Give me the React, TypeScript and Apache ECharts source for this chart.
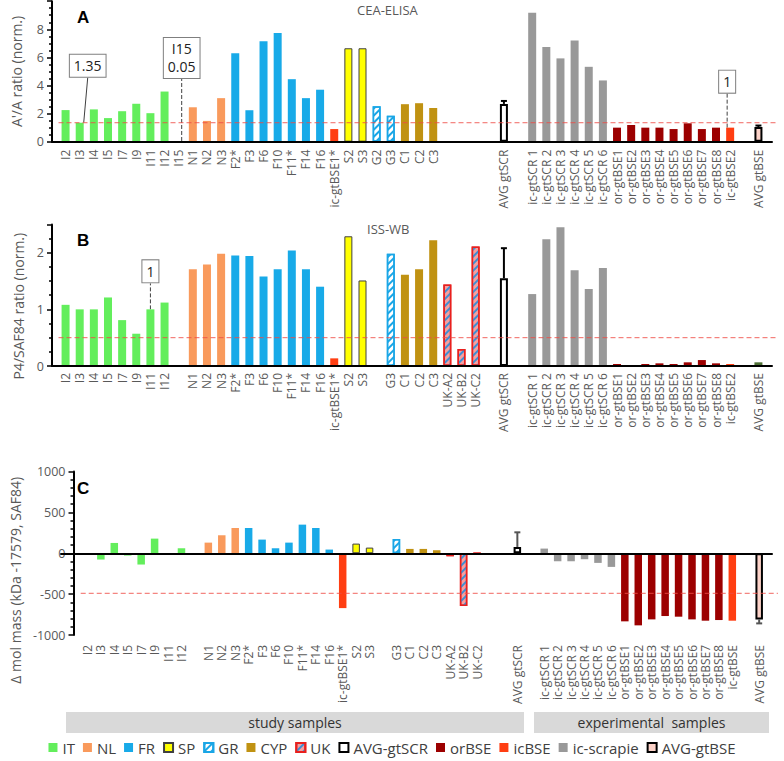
import React, { useEffect, useRef } from 'react';
import * as echarts from 'echarts';

// ---------- DATA ----------
const A_LABELS = ['I2','I3','I4','I5','I7','I9','I11','I12','I15','N1','N2','N3','F2*','F3','F6','F10','F11*','F14','F16','ic-gtBSE1*','S2','S3','G2','G3','C1','C2','C3','~1','~2','~3','~4','AVG gtSCR','~5','ic-gtSCR 1','ic-gtSCR 2','ic-gtSCR 3','ic-gtSCR 4','ic-gtSCR 5','ic-gtSCR 6','or-gtBSE1','or-gtBSE2','or-gtBSE3','or-gtBSE4','or-gtBSE5','or-gtBSE6','or-gtBSE7','or-gtBSE8','ic-gtBSE2','~6','AVG gtBSE'];
const A_VALUES = [2.25,1.35,2.3,1.68,2.17,2.7,2.03,3.57,0.05,2.45,1.48,3.1,6.3,2.24,7.15,7.74,4.45,3.1,3.7,0.9,6.65,6.65,2.52,1.85,2.67,2.74,2.4,null,null,null,null,2.69,null,9.17,6.74,5.93,7.21,5.33,4.36,1.0,1.19,1.0,1.0,0.9,1.31,0.9,1.0,1.0,null,1.05];
const A_ERR: Record<string, number> = { 'AVG gtSCR': 2.9, 'AVG gtBSE': 1.15 };

const B_LABELS = ['I2','I3','I4','I5','I7','I9','I11','I12','~1','N1','N2','N3','F2*','F3','F6','F10','F11*','F14','F16','ic-gtBSE1*','S2','S3','~2','G3','C1','C2','C3','UK-A2','UK-B2','UK-C2','~3','AVG gtSCR','~4','ic-gtSCR 1','ic-gtSCR 2','ic-gtSCR 3','ic-gtSCR 4','ic-gtSCR 5','ic-gtSCR 6','or-gtBSE1','or-gtBSE2','or-gtBSE3','or-gtBSE4','or-gtBSE5','or-gtBSE6','or-gtBSE7','or-gtBSE8','ic-gtBSE2','~5','AVG gtBSE'];
const B_VALUES = [1.08,1.0,1.0,1.21,0.81,0.57,1.0,1.12,null,1.71,1.79,1.98,1.95,1.94,1.58,1.71,2.04,1.71,1.4,0.135,2.29,1.51,null,1.98,1.61,1.71,2.22,1.44,0.3,2.11,null,1.55,null,1.27,2.24,2.45,1.69,1.36,1.73,0.035,0.005,0.035,0.047,0.035,0.065,0.105,0.047,0.035,null,0.065];
const B_ERR: Record<string, number> = { 'AVG gtSCR': 2.08 };

const C_LABELS = ['I2','I3','I4','I5','I7','I9','I11','I12','~1','N1','N2','N3','F2*','F3','F6','F10','F11*','F14','F16','ic-gtBSE1*','S2','S3','~2','G3','C1','C2','C3','UK-A2','UK-B2','UK-C2','~3','~4','AVG gtSCR','~5','ic-gtSCR 1','ic-gtSCR 2','ic-gtSCR 3','ic-gtSCR 4','ic-gtSCR 5','ic-gtSCR 6','or-gtBSE1','or-gtBSE2','or-gtBSE3','or-gtBSE4','or-gtBSE5','or-gtBSE6','or-gtBSE7','or-gtBSE8','ic-gtBSE','~6','AVG gtBSE'];
const C_VALUES = [0,-77,126,-28,-138,179,0,61,null,130,220,309,309,167,61,130,350,309,45,-671,118,69,null,175,53,53,37,-37,-646,0,null,null,77,null,57,-98,-98,-73,-118,-167,-833,-882,-809,-768,-776,-809,-825,-817,-825,null,-809];
const C_ERR: Record<string, number> = { 'AVG gtSCR': 256, 'AVG gtBSE': -858 };

const REF_LINES = [1.35, 0.5, -490];
const Y_NAMES = ["A'/A ratio (norm.)", 'P4/SAF84 ratio (norm.)', 'Δ mol mass (kDa -17579, SAF84)'];
const PANEL_LETTERS = ['A', 'B', 'C'];
const METHODS = ['CEA-ELISA', 'ISS-WB'];
const LEGEND = ['IT','NL','FR','SP','GR','CYP','UK','AVG-gtSCR','orBSE','icBSE','ic-scrapie','AVG-gtBSE'];
const CALLOUTS = [
  { panel: 0, cat: 'I3', text: '1.35' },
  { panel: 0, cat: 'I15', text: 'I15\n0.05' },
  { panel: 0, cat: 'ic-gtBSE2', text: '1' },
  { panel: 1, cat: 'I11', text: '1' },
];
const BANDS = ['study samples', 'experimental  samples'];

// ---------- STYLE ----------
const FONT = "'Open Sans', sans-serif";
const GRAY_TXT = '#595959';
const REF_COLOR = '#ee4b45';

const stripes = (color: string) => ({
  symbol: 'rect', symbolSize: 1, color,
  dashArrayX: [1, 0], dashArrayY: [2, 2.5], rotation: -Math.PI / 4,
});

const GROUP_STYLE: Record<string, any> = {
  'IT': { color: '#63ee5c' },
  'NL': { color: '#f99a5c' },
  'FR': { color: '#18aae8' },
  'SP': { color: '#ffff00', borderColor: '#404040', borderWidth: 1 },
  'GR': { color: '#ffffff', borderColor: '#1aa6e6', borderWidth: 1.5, decal: stripes('#1aa6e6') },
  'CYP': { color: '#c09212' },
  'UK': { color: '#f5a0a0', borderColor: '#e8201e', borderWidth: 1.5, decal: stripes('#3d8fd4') },
  'AVG-gtSCR': { color: '#ffffff', borderColor: '#000000', borderWidth: 2 },
  'orBSE': { color: '#9c0000' },
  'icBSE': { color: '#ff3e12' },
  'ic-scrapie': { color: '#999999' },
  'AVG-gtBSE': { color: '#fcd2c8', borderColor: '#000000', borderWidth: 2 },
};

function groupOf(label: string): string | null {
  if (label.startsWith('~')) return null;
  if (label.startsWith('AVG gtSCR')) return 'AVG-gtSCR';
  if (label.startsWith('AVG gtBSE')) return 'AVG-gtBSE';
  if (label.startsWith('ic-gtSCR')) return 'ic-scrapie';
  if (label.startsWith('or-gtBSE')) return 'orBSE';
  if (label.startsWith('ic-gtBSE')) return 'icBSE';
  if (label.startsWith('UK')) return 'UK';
  const c = label[0];
  return ({ I: 'IT', N: 'NL', F: 'FR', S: 'SP', G: 'GR', C: 'CYP' } as any)[c] || null;
}

// layout per panel (pixels)
const LAYOUT = [
  { grid: { left: 58.5, width: 707, top: 1.2, height: 140.5 }, axisGrid: { left: 52, width: 720 }, yOffset: 6.5,
    min: 0, max: 10, interval: 2, minorSplit: 4, barWidth: 8, labelMargin: 8, nameGap: 29, namePadRight: 0 },
  { grid: { left: 58.5, width: 707, top: 224.4, height: 141.6 }, axisGrid: { left: 52, width: 720 }, yOffset: 6.5,
    min: 0, max: 2.5, interval: 1, minorSplit: 4, barWidth: 8, labelMargin: 7, nameGap: 26, namePadRight: 22 },
  { grid: { left: 68.2, width: 697.7, top: 471.5, height: 163.5 }, axisGrid: { left: 61, width: 711 }, yOffset: 7.2,
    min: -1000, max: 1000, interval: 500, minorSplit: 5, barWidth: 7.5, labelMargin: 10, nameGap: 40, namePadRight: 54 },
];
const CALLOUT_OFFSETS: Record<string, [number, number, string]> = {
  '0:I3': [8, -41, 'solid'],
  '0:I15': [3, -58, 'dashed'],
  '0:ic-gtBSE2': [-3, -30, 'dashed'],
  '1:I11': [0, -22, 'dashed'],
};

function buildOption() {
  const panels = [
    { labels: A_LABELS, values: A_VALUES, err: A_ERR },
    { labels: B_LABELS, values: B_VALUES, err: B_ERR },
    { labels: C_LABELS, values: C_VALUES, err: C_ERR },
  ];
  const grid: any[] = [];
  const xAxis: any[] = [];
  const yAxis: any[] = [];
  const series: any[] = [];

  panels.forEach((p, i) => {
    const L = LAYOUT[i];
    grid.push({ ...L.grid });
    xAxis.push({
      type: 'category', gridIndex: i, data: p.labels, position: 'bottom',
      axisLine: { show: false, onZero: false }, axisTick: { show: false },
      axisLabel: {
        interval: 0, rotate: 90, margin: L.labelMargin, color: GRAY_TXT, fontSize: 12, fontFamily: FONT,
        formatter: (v: string) => (v.startsWith('~') ? '' : v),
      },
      splitLine: { show: false },
    });
    yAxis.push({
      type: 'value', gridIndex: i, min: L.min, max: L.max, interval: L.interval, offset: L.yOffset,
      axisLine: { show: true, lineStyle: { color: '#000', width: 2 } },
      axisTick: { show: true, length: 5, lineStyle: { color: '#000', width: 1.5 } },
      minorTick: { show: true, splitNumber: L.minorSplit, length: 3, lineStyle: { color: '#000', width: 1.5 } },
      splitLine: { show: false },
      axisLabel: {
        color: GRAY_TXT, fontSize: 12.5, fontFamily: FONT, showMaxLabel: i === 2, margin: 8,
        formatter: (v: number) => String(v),
      },
      name: Y_NAMES[i], nameLocation: 'middle', nameGap: L.nameGap,
      nameTextStyle: { color: GRAY_TXT, fontSize: 14, fontFamily: FONT, padding: [0, L.namePadRight, 0, 0] },
    });

    LEGEND.forEach((g) => {
      const data = p.labels.map((lab, k) => {
        const v = p.values[k];
        if (groupOf(lab) !== g || v === null) return null;
        const co = CALLOUTS.find((c) => c.panel === i && c.cat === lab);
        if (!co) return v;
        const off = CALLOUT_OFFSETS[`${i}:${lab}`];
        return {
          value: v,
          label: {
            show: true, position: 'top', formatter: co.text, color: '#222', fontSize: 14, fontFamily: FONT,
            lineHeight: 18, backgroundColor: '#fff', borderColor: '#7f7f7f', borderWidth: 1, padding: [2, 4],
          },
          labelLine: { show: true, lineStyle: { color: '#404040', width: 1, type: off ? off[2] : 'solid' } },
        };
      });
      if (!data.some((d) => d !== null)) return;
      let style = GROUP_STYLE[g];
      if (i === 1 && g === 'AVG-gtBSE') style = { color: '#4f7036' };
      series.push({
        type: 'bar', name: g, xAxisIndex: i, yAxisIndex: i, stack: 'p' + i, barWidth: L.barWidth,
        data, itemStyle: style, silent: true,
        labelLayout: (params: any) => {
          const lab = p.labels[params.dataIndex];
          const off = CALLOUT_OFFSETS[`${i}:${lab}`];
          return off ? { dx: off[0], dy: off[1] } : {};
        },
      });
    });

    // reference (threshold) line across the panel, positioned by the y scale
    series.push({
      type: 'custom', xAxisIndex: i, yAxisIndex: i, data: [[0, REF_LINES[i]]], silent: true, z: 3,
      renderItem: (params: any, api: any) => {
        const cs = params.coordSys;
        const y = api.coord([0, api.value(1)])[1];
        return {
          type: 'line',
          shape: { x1: cs.x, y1: y, x2: cs.x + cs.width + 12, y2: y },
          style: { stroke: REF_COLOR, lineWidth: 1, lineDash: [5, 3], opacity: 0.85 },
        };
      },
    });

    const errData = Object.keys(p.err).map((cat) => {
      const k = p.labels.indexOf(cat);
      return [k, p.values[k], p.err[cat]];
    });
    const errColor = i === 2 ? '#555' : '#000';
    series.push({
      type: 'custom', xAxisIndex: i, yAxisIndex: i, data: errData, silent: true, z: 4,
      renderItem: (params: any, api: any) => {
        const x = api.value(0);
        const p0 = api.coord([x, api.value(1)]);
        const p1 = api.coord([x, api.value(2)]);
        const cap = 3;
        return {
          type: 'group',
          children: [
            { type: 'line', shape: { x1: p0[0], y1: p0[1], x2: p1[0], y2: p1[1] }, style: { stroke: errColor, lineWidth: 2 } },
            { type: 'line', shape: { x1: p1[0] - cap, y1: p1[1], x2: p1[0] + cap, y2: p1[1] }, style: { stroke: errColor, lineWidth: 2 } },
          ],
        };
      },
    });
  });

  // zero-line axes spanning the full panel width
  panels.forEach((p, i) => {
    const L = LAYOUT[i];
    const gi = 3 + i;
    grid.push({ left: L.axisGrid.left, width: L.axisGrid.width, top: L.grid.top, height: L.grid.height });
    xAxis.push({
      type: 'category', gridIndex: gi, data: [''], z: 10,
      axisLine: { show: true, onZero: true, lineStyle: { color: '#000', width: 2 } },
      axisTick: { show: false }, axisLabel: { show: false }, splitLine: { show: false },
    });
    yAxis.push({ type: 'value', gridIndex: gi, min: L.min, max: L.max, show: false, splitLine: { show: false } });
  });

  const titles: any[] = [
    { text: PANEL_LETTERS[0], left: 77, top: 9 },
    { text: PANEL_LETTERS[1], left: 77, top: 232 },
    { text: PANEL_LETTERS[2], left: 77, top: 480 },
  ].map((t) => ({ ...t, padding: 0, textStyle: { fontSize: 17, fontWeight: 'bold', color: '#000', fontFamily: "'Liberation Sans', Arial, sans-serif" } }));
  titles.push(
    { text: METHODS[0], left: 357, top: 3, padding: 0, textStyle: { fontSize: 13, fontWeight: 'normal', color: GRAY_TXT, fontFamily: FONT } },
    { text: METHODS[1], left: 367, top: 222, padding: 0, textStyle: { fontSize: 13, fontWeight: 'normal', color: GRAY_TXT, fontFamily: FONT } },
  );

  return {
    animation: false,
    title: titles,
    grid, xAxis, yAxis, series,
    legend: {
      data: LEGEND, left: 'center', top: 740, padding: 0, icon: 'rect', itemWidth: 9, itemHeight: 9, itemGap: 8,
      selectedMode: false, textStyle: { fontSize: 15, color: '#404040', fontFamily: FONT },
    },
    graphic: [
      { type: 'rect', shape: { x: 66, y: 712, width: 458, height: 21 }, style: { fill: '#d9d9d9' }, silent: true },
      { type: 'text', x: 295, y: 722.5, style: { text: BANDS[0], fill: '#333', font: `14px ${FONT}`, textAlign: 'center', textVerticalAlign: 'middle' }, silent: true },
      { type: 'rect', shape: { x: 534, y: 712, width: 235, height: 21 }, style: { fill: '#d9d9d9' }, silent: true },
      { type: 'text', x: 651.5, y: 722.5, style: { text: BANDS[1], fill: '#333', font: `14px ${FONT}`, textAlign: 'center', textVerticalAlign: 'middle' }, silent: true },
    ],
  };
}

export default function App() {
  const ref = useRef<HTMLDivElement>(null);
  useEffect(() => {
    const chart = echarts.init(ref.current!, null, { renderer: 'svg' });
    chart.setOption(buildOption() as any);
    return () => chart.dispose();
  }, []);
  return <div ref={ref} style={{ position: 'fixed', left: 0, top: 0, width: 784, height: 761, background: '#fff' }} />;
}
